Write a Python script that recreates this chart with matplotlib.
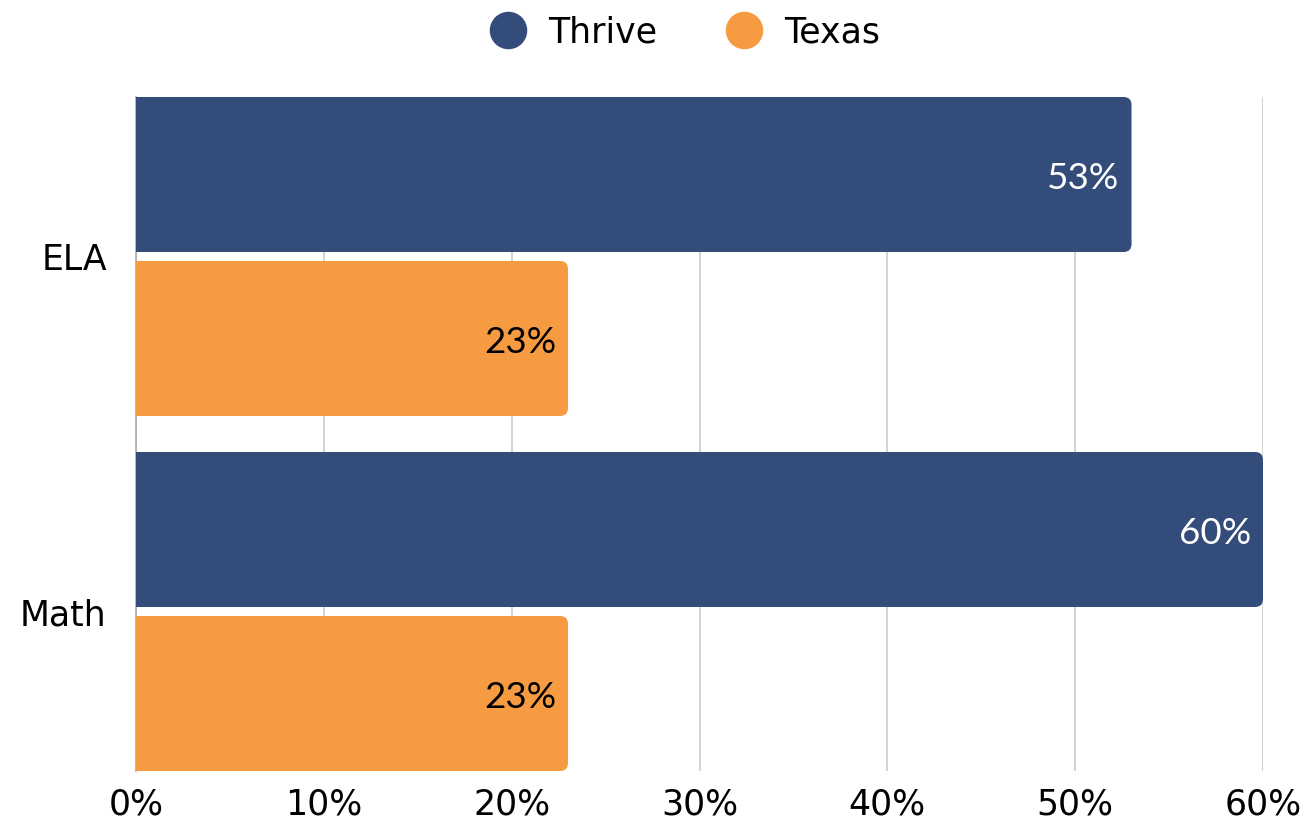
import matplotlib
matplotlib.use("Agg")
import matplotlib.pyplot as plt
import matplotlib.transforms as mtransforms
from matplotlib.patches import FancyBboxPatch
from matplotlib.lines import Line2D

# data
categories = ["ELA", "Math"]
thrive = [53, 60]
texas = [23, 23]
series_names = ["Thrive", "Texas"]
colors = ["#344C7A", "#F79B42"]
label_colors = ["white", "black"]
x_ticks = [0, 10, 20, 30, 40, 50, 60]
x_tick_labels = ["0%", "10%", "20%", "30%", "40%", "50%", "60%"]

plt.rcParams["font.family"] = ["DejaVu Sans"]

fig = plt.figure(figsize=(13.14, 8.22), dpi=100)
ax = fig.add_axes([136 / 1314, 1 - 771 / 822, (1263 - 136) / 1314, (771 - 97) / 822])

bar_h = 155 / 355
offset = 82 / 355
ax.set_xlim(0, 60)
ax.set_ylim(1 + 159.5 / 355, -159.5 / 355)

# rounding: ~8 px
x_per_px = 60 / 1127
y_per_px = (1 + 319 / 355) / 674
r = 8 * x_per_px
aspect = (8 * y_per_px) / r

for i, cat in enumerate(categories):
    for j, vals in enumerate([thrive, texas]):
        v = vals[i]
        yc = i + (-offset if j == 0 else offset)
        start = -1  # left corners hidden behind the axis edge
        p = FancyBboxPatch((start, yc - bar_h / 2), v - start, bar_h,
                           boxstyle=f"round,pad=0,rounding_size={r}",
                           mutation_aspect=aspect,
                           facecolor=colors[j], edgecolor="none", zorder=3)
        ax.add_patch(p)
        ax.text(v - 12 * x_per_px, yc + 0.01, f"{v}%", ha="right", va="center",
                color=label_colors[j], fontsize=26.5, family=["Lato", "DejaVu Sans"],
                zorder=4)

ax.set_xticks(x_ticks)
ax.set_xticklabels(x_tick_labels, fontsize=25)
ax.set_yticks(range(len(categories)))
ax.set_yticklabels(categories, fontsize=25, va="center")
ax.tick_params(axis="x", length=0, pad=12)
ax.tick_params(axis="y", length=0, pad=21)
shift = mtransforms.ScaledTranslation(0, -4 / 100, fig.dpi_scale_trans)
for t in ax.get_yticklabels():
    t.set_transform(t.get_transform() + shift)
ax.grid(axis="x", color="#CCCCCC", linewidth=1.2, zorder=0)
ax.set_axisbelow(True)
for s in ["top", "right", "bottom"]:
    ax.spines[s].set_visible(False)
ax.spines["left"].set_color("#AAAAAA")
ax.spines["left"].set_linewidth(1.2)

handles = [Line2D([], [], marker="o", linestyle="none", markersize=27,
                  markerfacecolor=c, markeredgecolor="none") for c in colors]
fig.legend(handles, series_names, loc="center", bbox_to_anchor=(0.515, 0.961),
           ncol=2, frameon=False, fontsize=25, handletextpad=0.15,
           columnspacing=1.5)

fig.savefig("out.png", dpi=100)
